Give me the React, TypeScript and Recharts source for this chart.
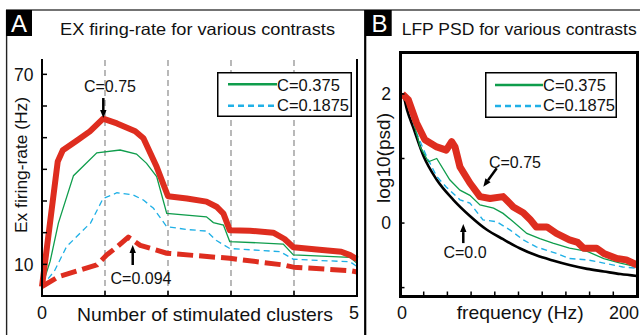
import React from "react";
import { LineChart, Line, XAxis, YAxis, ReferenceLine, ReferenceDot, Legend } from "recharts";

const FONT = '"Liberation Sans", Arial, Helvetica, sans-serif';
const RED = "#de2d1f";
const GREEN = "#0f9d4c";
const BLUE = "#1fb0e6";

// ---------- Panel A: EX firing-rate vs number of stimulated clusters ----------
const clusterDomain = [0, 5];
const clusterTicks = [0, 1, 2, 3, 4, 5];
const clusterTickLabels = [0, 5];
const clusterGrid = [1, 2, 3, 4];
const rateDomain = [0, 75];
const rateTicks = [10, 20, 30, 40, 50, 60, 70];
const rateTickLabels = [10, 70];

const rateC075X = [0, 0.25, 0.33, 0.55, 0.76, 0.97, 1.19, 1.48, 1.61, 1.82, 2.0, 2.3, 2.61, 2.77, 2.88, 2.98, 3.3, 3.67, 3.85, 3.99, 4.36, 4.75, 4.89, 5];
const rateC075Y = [3, 42.5, 46, 49, 52, 56, 54.5, 52, 49.8, 40.8, 31.5, 30.8, 29.8, 28.2, 26, 20.8, 20.6, 20, 18, 15.4, 14.7, 14, 12.9, 11.6];

const rateC0375X = [0, 0.13, 0.26, 0.5, 0.87, 1.24, 1.5, 1.66, 1.82, 1.98, 2.61, 2.72, 2.88, 2.98, 3.83, 3.99, 4.89, 5];
const rateC0375Y = [3, 11, 23, 38, 45.2, 46.1, 44.8, 41.9, 37.7, 26.1, 25, 23.2, 22.4, 17.2, 16.4, 13, 12.2, 10.3];

const rateC01875X = [0, 0.2, 0.39, 0.71, 0.77, 0.97, 1.19, 1.45, 1.61, 1.77, 1.98, 2.3, 2.61, 2.77, 2.98, 3.78, 3.99, 4.89, 5];
const rateC01875Y = [3, 8, 15.6, 21.9, 23, 30.8, 32.6, 31.9, 30.3, 27.7, 21.9, 21, 20.5, 17.5, 15, 14, 11.6, 10.8, 9.3];

const rateC0094X = [0, 0.26, 0.87, 1.03, 1.19, 1.37, 1.56, 1.98, 2.98, 3.83, 3.99, 4.89, 5];
const rateC0094Y = [3, 6.1, 9.8, 13, 15.5, 18.6, 16, 13.5, 11.9, 9.8, 9.1, 8, 7.6];

// ---------- Panel B: LFP PSD ----------
const freqDomain = [0, 200];
const freqTicks = [0, 20, 40, 60, 80, 100, 120, 140, 160, 180, 200];
const freqTickLabels = [0, 200];
const psdDomain = [-1.13, 2.65];
const psdTicks = [-1, 0, 1, 2];
const psdTickLabels = [0, 2];

const psdC0X = [1, 3, 6, 11, 20, 31, 45, 59, 73, 87, 101, 115, 129, 143, 158, 172, 186, 200];
const psdC0Y = [2.0, 1.96, 1.75, 1.49, 1.03, 0.67, 0.36, 0.11, -0.1, -0.25, -0.39, -0.5, -0.58, -0.65, -0.71, -0.75, -0.79, -0.82];

const psdC075X = [2, 7, 14, 21, 31, 39, 43.6, 46.4, 50.6, 59, 67.5, 76, 87, 95.6, 104, 110, 115, 124, 132, 143, 150, 155, 166, 172, 183, 191, 200];
const psdC075Y = [2.0, 1.91, 1.55, 1.29, 1.18, 1.13, 1.26, 1.18, 0.87, 0.62, 0.41, 0.38, 0.41, 0.25, 0.16, 0.05, -0.06, -0.06, -0.16, -0.26, -0.3, -0.39, -0.39, -0.47, -0.55, -0.57, -0.65];

const psdC0375X = [3, 5.6, 17, 24, 31, 42, 50.6, 59, 67.5, 79, 87, 95.6, 107, 118, 129, 143, 158, 172, 186, 200];
const psdC0375Y = [2.0, 1.96, 1.18, 0.95, 1.0, 0.67, 0.51, 0.43, 0.28, 0.23, 0.15, 0.02, -0.16, -0.24, -0.31, -0.39, -0.44, -0.55, -0.62, -0.68];

const psdC01875X = [3, 5.6, 14, 22.5, 31, 39, 50.6, 59, 70, 81.6, 93, 104, 115, 132, 143, 158, 172, 188, 200];
const psdC01875Y = [2.0, 1.91, 1.39, 1.03, 0.72, 0.56, 0.36, 0.31, 0.05, 0.02, -0.11, -0.26, -0.37, -0.47, -0.55, -0.57, -0.62, -0.68, -0.7];

const legendNames = ["C=0.375", "C=0.1875"];
const legendStyle: Record<string, { color: string; dash?: string; width: number }> = {
  "C=0.375": { color: GREEN, width: 2.5 },
  "C=0.1875": { color: BLUE, width: 2.5, dash: "6 4" },
};

// plot rectangles (page pixels) and chart placement
const A_CHART = { left: 0, width: 364, height: 335 };
const A_PLOT = { left: 42, top: 58.5, right: 357, bottom: 296 };
const B_CHART = { left: 366, width: 274, height: 335 };
const B_PLOT = { left: 400, top: 52, right: 637, bottom: 296 };
const Y_AXIS_W = 30;
const X_AXIS_H = 30;

const chartMargin = (c: typeof A_CHART, p: typeof A_PLOT) => ({
  top: p.top,
  left: p.left - c.left - Y_AXIS_W,
  right: c.left + c.width - p.right,
  bottom: c.height - p.bottom - X_AXIS_H,
});

const lin = (d: number[], r0: number, r1: number) => (v: number) => r0 + ((v - d[0]) / (d[1] - d[0])) * (r1 - r0);

const pts = (xs: number[], ys: number[]) => xs.map((x, i) => ({ x, y: ys[i] }));

type TickOpts = {
  labels: number[];
  side: "left" | "bottom";
  fs: number;
  shift?: Record<number, [number, string]>;
};

const makeTick = (o: TickOpts) => (props: any) => {
  const { x, y, payload } = props;
  if (!o.labels.includes(payload.value)) return <g />;
  const s = o.shift ? o.shift[payload.value] : undefined;
  if (o.side === "left") {
    return (
      <text x={x} y={y} dy="0.36em" textAnchor="end" fontSize={o.fs} fontFamily={FONT} fill="#111">
        {payload.value}
      </text>
    );
  }
  return (
    <text x={x + (s ? s[0] : 0)} y={y} textAnchor={s ? s[1] : "middle"} fontSize={o.fs} fontFamily={FONT} fill="#111">
      {payload.value}
    </text>
  );
};

const makeLegend =
  (w: number, h: number, lx1: number, lx2: number, tx: number, rows: { ly: number; ty: number }[]) =>
  (props: any) => {
    const items = (props.payload || [])
      .filter((p: any) => legendNames.includes(p.value))
      .sort((a: any, b: any) => legendNames.indexOf(a.value) - legendNames.indexOf(b.value));
    return (
      <svg width={w} height={h} style={{ display: "block" }}>
        <rect x={0.75} y={0.75} width={w - 1.5} height={h - 1.5} fill="#fff" stroke="#000" strokeWidth={1.5} />
        {items.map((it: any, i: number) => {
          const st = legendStyle[it.value];
          return (
            <g key={it.value}>
              <line x1={lx1} x2={lx2} y1={rows[i].ly} y2={rows[i].ly} stroke={st.color} strokeWidth={st.width} strokeDasharray={st.dash} />
              <text x={tx} y={rows[i].ty} fontSize={16.5} fontFamily={FONT} fill="#111">
                {it.value}
              </text>
            </g>
          );
        })}
      </svg>
    );
  };

const arrowShape =
  (dx: number, dy: number, len: number, label: string, tdx: number, tdy: number) => (p: any) => {
    const { cx, cy } = p;
    const n = Math.hypot(dx, dy);
    const ux = dx / n;
    const uy = dy / n;
    const tailX = cx + ux * len;
    const tailY = cy + uy * len;
    const hl = 8;
    const hw = 3.2;
    const bx = cx + ux * hl;
    const by = cy + uy * hl;
    const px = -uy;
    const py = ux;
    return (
      <g>
        <line x1={tailX} y1={tailY} x2={bx} y2={by} stroke="#000" strokeWidth={2.5} />
        <polygon points={`${cx},${cy} ${bx + px * hw},${by + py * hw} ${bx - px * hw},${by - py * hw}`} fill="#000" />
        <text x={cx + tdx} y={cy + tdy} textAnchor="middle" fontSize={16} fontFamily={FONT} fill="#111">
          {label}
        </text>
      </g>
    );
  };

const lineCommon = { dataKey: "y", dot: false, activeDot: false, isAnimationActive: false, type: "linear" as const };

function TickMarks() {
  const ax = lin(clusterDomain, A_PLOT.left, A_PLOT.right);
  const ay = lin(rateDomain, A_PLOT.bottom, A_PLOT.top);
  const bx = lin(freqDomain, B_PLOT.left, B_PLOT.right);
  const by = lin(psdDomain, B_PLOT.bottom, B_PLOT.top);
  return (
    <g>
      {rateTicks.map((t) => (
        <line key={"ay" + t} x1={A_PLOT.left} x2={A_PLOT.left + 5} y1={ay(t)} y2={ay(t)} stroke="#000" strokeWidth={1.5} />
      ))}
      {clusterTicks.slice(1, -1).map((t) => (
        <line key={"ax" + t} x1={ax(t)} x2={ax(t)} y1={A_PLOT.bottom} y2={A_PLOT.bottom - 5} stroke="#000" strokeWidth={1.5} />
      ))}
      {psdTicks.map((t) => (
        <line key={"by" + t} x1={B_PLOT.left} x2={B_PLOT.left + 4.5} y1={by(t)} y2={by(t)} stroke="#000" strokeWidth={1.5} />
      ))}
      {freqTicks.slice(1, -1).map((t) => (
        <line key={"bx" + t} x1={bx(t)} x2={bx(t)} y1={B_PLOT.bottom} y2={B_PLOT.bottom - 4.5} stroke="#000" strokeWidth={1.5} />
      ))}
    </g>
  );
}

export default function App() {
  return (
    <div style={{ position: "absolute", left: 0, top: 0, width: 640, height: 335, background: "#fff", fontFamily: FONT, overflow: "hidden" }}>
      <div style={{ position: "absolute", left: A_CHART.left, top: 0 }}>
        <LineChart width={A_CHART.width} height={A_CHART.height} margin={chartMargin(A_CHART, A_PLOT)}>
          <XAxis
            dataKey="x"
            type="number"
            domain={clusterDomain}
            ticks={clusterTicks}
            interval={0}
            height={X_AXIS_H}
            axisLine={false}
            tickLine={false}
            tickSize={0}
            tickMargin={23}
            tick={makeTick({ labels: clusterTickLabels, side: "bottom", fs: 18, shift: { 5: [-3, "middle"] } })}
          />
          <YAxis
            type="number"
            domain={rateDomain}
            ticks={rateTicks}
            interval={0}
            width={Y_AXIS_W}
            axisLine={false}
            tickLine={false}
            tickSize={0}
            tickMargin={8.5}
            tick={makeTick({ labels: rateTickLabels, side: "left", fs: 17.5 })}
          />
          {clusterGrid.map((g) => (
            <ReferenceLine key={g} x={g} stroke="#8a8a8a" strokeWidth={1.2} strokeDasharray="6 4" />
          ))}
          <Legend
            layout="horizontal"
            align="center"
            verticalAlign="middle"
            width={135}
            height={45}
            wrapperStyle={{ left: 217, top: 72, width: 135, height: 45 }}
            content={makeLegend(135, 45, 11, 60, 60, [
              { ly: 12.3, ty: 19 },
              { ly: 33.7, ty: 38.7 },
            ])}
          />
          <Line {...lineCommon} data={pts(rateC01875X, rateC01875Y)} name="C=0.1875" stroke={BLUE} strokeWidth={1.3} strokeDasharray="6 4" />
          <Line {...lineCommon} data={pts(rateC0375X, rateC0375Y)} name="C=0.375" stroke={GREEN} strokeWidth={1.3} />
          <Line {...lineCommon} data={pts(rateC0094X, rateC0094Y)} name="C=0.094" legendType="none" stroke={RED} strokeWidth={5} strokeDasharray="16 6" strokeLinejoin="round" />
          <Line {...lineCommon} data={pts(rateC075X, rateC075Y)} name="C=0.75" legendType="none" stroke={RED} strokeWidth={6} strokeLinejoin="round" />
          <ReferenceDot x={0.973} y={56.2} r={0} shape={arrowShape(0, -1, 20, "C=0.75", 6.7, -26)} />
          <ReferenceDot x={1.44} y={16.1} r={0} shape={arrowShape(0, 1, 20, "C=0.094", 8.3, 38.5)} />
        </LineChart>
      </div>

      <div style={{ position: "absolute", left: B_CHART.left, top: 0 }}>
        <LineChart width={B_CHART.width} height={B_CHART.height} margin={chartMargin(B_CHART, B_PLOT)}>
          <XAxis
            dataKey="x"
            type="number"
            domain={freqDomain}
            ticks={freqTicks}
            interval={0}
            height={X_AXIS_H}
            axisLine={false}
            tickLine={false}
            tickSize={0}
            tickMargin={23}
            tick={makeTick({ labels: freqTickLabels, side: "bottom", fs: 18, shift: { 0: [2, "middle"], 200: [2, "end"] } })}
          />
          <YAxis
            type="number"
            domain={psdDomain}
            ticks={psdTicks}
            interval={0}
            width={Y_AXIS_W}
            axisLine={false}
            tickLine={false}
            tickSize={0}
            tickMargin={9}
            tick={makeTick({ labels: psdTickLabels, side: "left", fs: 17.5 })}
          />
          <Legend
            layout="horizontal"
            align="center"
            verticalAlign="middle"
            width={132}
            height={46}
            wrapperStyle={{ left: 119, top: 72, width: 132, height: 46 }}
            content={makeLegend(132, 46, 10, 58, 58, [
              { ly: 13, ty: 18.5 },
              { ly: 34, ty: 38.7 },
            ])}
          />
          <Line {...lineCommon} type="monotone" data={pts(psdC0X, psdC0Y)} name="C=0.0" legendType="none" stroke="#000" strokeWidth={2.6} />
          <Line {...lineCommon} data={pts(psdC01875X, psdC01875Y)} name="C=0.1875" stroke={BLUE} strokeWidth={1.4} strokeDasharray="6 4" />
          <Line {...lineCommon} data={pts(psdC0375X, psdC0375Y)} name="C=0.375" stroke={GREEN} strokeWidth={1.3} />
          <Line {...lineCommon} data={pts(psdC075X, psdC075Y)} name="C=0.75" legendType="none" stroke={RED} strokeWidth={7} strokeLinejoin="round" />
          <ReferenceDot x={70.3} y={0.563} r={0} shape={arrowShape(13.4, -18.4, 22.8, "C=0.75", 31.7, -18.7)} />
          <ReferenceDot x={53.4} y={-0.016} r={0} shape={arrowShape(0, 1, 19, "C=0.0", 1.7, 34)} />
        </LineChart>
      </div>

      {/* axis frames as CSS borders */}
      <div
        style={{
          position: "absolute",
          zIndex: 5,
          boxSizing: "border-box",
          left: A_PLOT.left - 1,
          top: A_PLOT.top,
          width: A_PLOT.right - A_PLOT.left + 2,
          height: A_PLOT.bottom - A_PLOT.top + 1,
          borderLeft: "2px solid #000",
          borderRight: "2px solid #000",
          borderBottom: "2px solid #000",
        }}
      />
      <div
        style={{
          position: "absolute",
          zIndex: 5,
          boxSizing: "border-box",
          left: B_PLOT.left - 1.5,
          top: B_PLOT.top - 1.5,
          width: B_PLOT.right - B_PLOT.left + 3,
          height: B_PLOT.bottom - B_PLOT.top + 3,
          border: "3px solid #000",
        }}
      />

      <svg width={640} height={335} style={{ position: "absolute", left: 0, top: 0, zIndex: 6, pointerEvents: "none" }}>
        <line x1={6} y1={10} x2={640} y2={10} stroke="#444" strokeWidth={1.5} />
        <line x1={6.6} y1={10} x2={6.6} y2={335} stroke="#222" strokeWidth={1.4} />
        <line x1={365.2} y1={10} x2={365.2} y2={335} stroke="#000" strokeWidth={2.2} />
        <TickMarks />
        <rect x={6} y={10} width={26} height={26} fill="#000" />
        <text x={19} y={32} textAnchor="middle" fontSize={24} fontFamily={FONT} fill="#fff">A</text>
        <rect x={366} y={10} width={25.7} height={26} fill="#000" />
        <text x={379.5} y={32} textAnchor="middle" fontSize={24} fontFamily={FONT} fill="#fff">B</text>
        <text x={60} y={35} fontSize={16.5} fontFamily={FONT} fill="#111" textLength={275} lengthAdjust="spacingAndGlyphs">
          EX firing-rate for various contrasts
        </text>
        <text x={401.7} y={35} fontSize={16.5} fontFamily={FONT} fill="#111" textLength={235} lengthAdjust="spacingAndGlyphs">
          LFP PSD for various contrasts
        </text>
        <text transform="translate(26.5,165) rotate(-90)" x={-68} y={0} fontSize={16.5} fontFamily={FONT} fill="#111" textLength={136} lengthAdjust="spacingAndGlyphs">
          Ex firing-rate (Hz)
        </text>
        <text x={77} y={320.5} fontSize={19} fontFamily={FONT} fill="#111" textLength={256} lengthAdjust="spacingAndGlyphs">
          Number of stimulated clusters
        </text>
        <text transform="translate(390,158) rotate(-90)" x={-45} y={0} fontSize={19} fontFamily={FONT} fill="#111" textLength={90} lengthAdjust="spacingAndGlyphs">
          log10(psd)
        </text>
        <text x={456.7} y={319} fontSize={19} fontFamily={FONT} fill="#111" textLength={127} lengthAdjust="spacingAndGlyphs">
          frequency (Hz)
        </text>
      </svg>
    </div>
  );
}
